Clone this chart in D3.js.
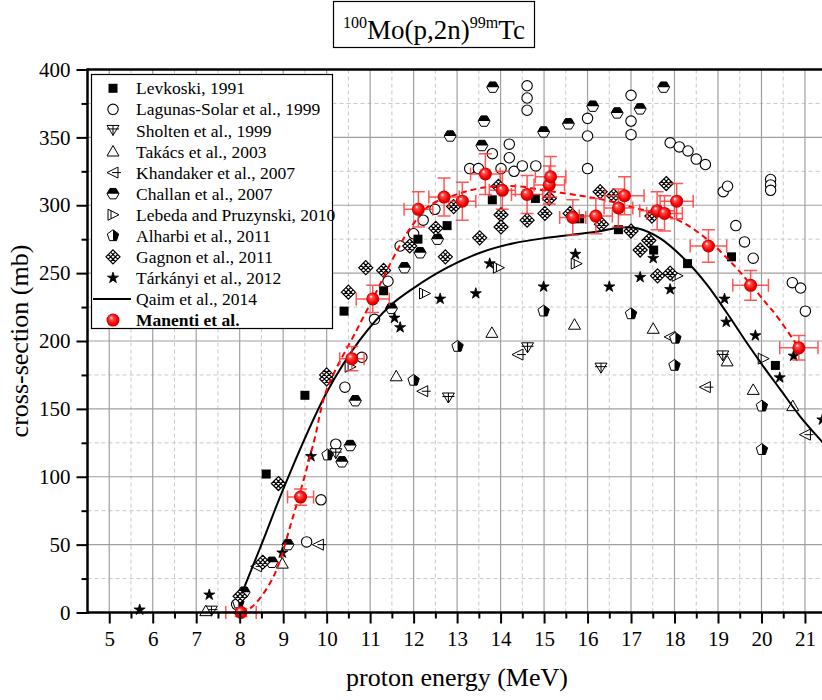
<!DOCTYPE html>
<html>
<head>
<meta charset="utf-8">
<script src="https://cdn.jsdelivr.net/npm/d3@7"></script>
<style>
body { margin: 0; background: #fff; }
svg { display: block; }
text { font-family: "Liberation Serif", "Times New Roman", serif; }
</style>
</head>
<body>
<svg id="chart"></svg>
<script>
var width = 822;
var height = 700;
var serif = "'Liberation Serif', 'Times New Roman', serif";

// ---- data (energy MeV, cross-section mb) ----
var levkoski = [[8.61,102],[9.50,160],[10.40,222],[11.31,237],[12.10,275],[12.77,285],[13.81,304],[14.80,305],
    [15.82,290],[16.71,282],[17.52,267],[18.30,257],[19.31,262],[20.32,182]];
var lagunas = [[7.93,6],[9.54,52],[9.87,83],[10.21,124],[10.42,166],[10.81,188],[11.10,216],[11.41,244],[11.69,270],
    [12.00,279],[12.22,289],[12.49,297],[13.29,327],[13.49,327],[13.81,338],[14.01,327],[14.20,345],[14.20,335],
    [14.31,325],[14.50,329],[14.81,329],[14.61,388],[14.61,379],[14.61,370],[16.0,364],[16.0,351],[16.0,327],
    [17.0,381],[17.0,362],[17.0,352],[17.90,346],[18.11,343],[18.31,340],[18.50,334],[18.71,330],[19.12,310],
    [19.22,314],[19.41,285],[19.61,273],[19.81,261],[20.21,319],[20.21,315],[20.21,311],[20.71,243],[20.90,239],[21.01,222]];
var sholten = [[7.35,1],[10.21,117],[12.80,158],[14.62,195],[16.31,180],[19.11,189]];
var takacs = [[7.22,1],[8.98,36],[11.60,174],[13.80,206],[15.70,212],[17.51,209],[19.21,185],[19.81,164],[20.72,152]];
var khandaker = [[8.39,34],[9.81,50],[12.21,163],[14.40,190],[17.90,203],[18.71,166],[21.01,131]];
var challan = [[8.10,15],[8.74,37],[9.11,50],[10.35,111],[10.54,123],[10.66,156],[11.49,224],[11.79,254],[12.15,265],
    [12.55,275],[12.84,351],[13.57,344],[13.62,362],[13.82,387],[14.99,354],[15.56,360],[16.12,373],[16.68,368],
    [17.21,371],[17.75,387]];
var lebeda = [[10.54,181],[12.25,235],[13.95,254],[15.74,257],[18.06,248],[20.04,187]];
var alharbi = [[7.97,7],[10.02,116],[12.0,171],[13.01,196],[14.99,222],[17.0,220],[18.0,182],[18.02,202],[20.01,152],[20.01,120]];
var gagnon = [[8.01,12],[8.53,37],[8.89,95],[10.0,175],[10.0,172],[10.50,236],[10.90,254],[11.31,252],[11.91,270],
    [12.51,283],[12.73,262],[12.92,299],[13.52,276],[13.95,314],[14.01,293],[14.01,284],[14.61,289],[15.02,294],
    [15.12,305],[15.60,294],[16.29,310],[16.32,286],[16.60,307],[17.0,281],[17.21,267],[17.41,274],[17.48,292],
    [17.61,248],[17.81,316],[17.90,250]];
var tarkanyi = [[5.70,2],[7.30,13],[8.98,44],[9.64,115],[11.56,217],[11.69,210],[12.61,231],[13.43,235],[13.75,257],
    [14.99,240],[15.72,264],[16.50,240],[17.21,247],[17.51,261],[17.90,238],[19.15,231],[19.19,214],[19.86,204],
    [20.42,173],[20.74,189],[21.40,142]];

var qaimE = [8.05, 8.5, 9.08, 10.0, 10.77, 11.46, 12.0, 12.77, 13.53, 14.3, 15.07, 15.83, 16.3, 16.72, 17.14, 17.67,
    18.29, 18.75, 19.21, 19.67, 20.05, 20.44, 20.9, 21.5];
var qaimS = [14, 50, 97, 162, 201, 226, 239, 254, 265, 272, 276, 279, 281, 283.5, 283, 275.6, 258.4, 241.3, 220.4,
    198.3, 181, 164, 144, 122];

var manentiE = [8.03, 9.40, 10.58, 11.06, 12.11, 12.70, 13.12, 13.65, 14.04, 14.61, 15.12, 15.15, 15.66, 16.19, 16.71,
    16.85, 17.60, 17.77, 18.05, 18.78, 19.75, 20.86];
var manentiS = [0, 85, 187, 231, 297, 306, 303, 323, 311, 308, 315, 321, 291, 292, 298, 307, 296, 294, 303, 270, 241, 195];
var manentiXerr = [0.35, 0.30, 0.28, 0.38, 0.33, 0.35, 0.31, 0.34, 0.30, 0.36, 0.35, 0.35, 0.30, 0.38, 0.33, 0.45,
    0.40, 0.41, 0.38, 0.42, 0.41, 0.44];
var manentiYerr = [3, 6, 9, 10, 13, 14, 14, 15, 14, 14, 14, 15, 13, 13, 14, 14, 14, 13, 13, 12, 11, 9];

var fitE = [8.03, 8.28, 8.77, 9.23, 9.70, 10.0, 10.69, 11.06, 11.61, 11.92, 12.38, 12.99, 13.61, 14.38, 14.99, 15.84,
    16.37, 17.21, 18.02, 18.67, 19.36, 19.82, 20.13, 20.36, 20.86];
var fitS = [0, 4, 26, 71, 125, 164, 208, 231, 266, 283, 300, 308, 313, 314, 311, 307, 304, 297, 290, 277, 256, 239,
    227, 218, 195];

var legendNames = ["Levkoski, 1991", "Lagunas-Solar et al., 1999", "Sholten et al., 1999", "Takács et al., 2003",
    "Khandaker et al., 2007", "Challan et al., 2007", "Lebeda and Pruzynski, 2010", "Alharbi et al., 2011",
    "Gagnon et al., 2011", "Tárkányi et al., 2012", "Qaim et al., 2014", "Manenti et al."];
var legendTypes = ["square", "circle", "sholten", "takacs", "khandaker", "challan", "lebeda", "alharbi",
    "gagnon", "star", "line", "red"];

var xTicks = d3.range(5, 22);
var yTicks = d3.range(0, 401, 50);

// ---- setup ----
var svg = d3.select("#chart").attr("width", width).attr("height", height).attr("font-family", serif);
var x = d3.scaleLinear().domain([4.5, 21.5]).range([87.5, 826.7]);
var y = d3.scaleLinear().domain([0, 400]).range([612.5, 69.5]);

var defs = svg.append("defs");
var grad = defs.append("radialGradient").attr("id", "ball")
    .attr("cx", "50%").attr("cy", "50%").attr("r", "55%").attr("fx", "35%").attr("fy", "30%");
grad.append("stop").attr("offset", "0%").attr("stop-color", "#ffffff");
grad.append("stop").attr("offset", "25%").attr("stop-color", "#ff5050");
grad.append("stop").attr("offset", "70%").attr("stop-color", "#f00000");
grad.append("stop").attr("offset", "100%").attr("stop-color", "#b00000");

// grid
var grid = svg.append("g");
grid.selectAll(".gxm").data(d3.range(5.5, 21.5, 1)).join("line")
    .attr("x1", d => x(d)).attr("x2", d => x(d)).attr("y1", y(0)).attr("y2", y(400))
    .attr("stroke", "#c8c8c8").attr("stroke-dasharray", "4,3");
grid.selectAll(".gym").data(d3.range(25, 400, 50)).join("line")
    .attr("x1", x(4.5)).attr("x2", width).attr("y1", d => y(d)).attr("y2", d => y(d))
    .attr("stroke", "#c8c8c8").attr("stroke-dasharray", "4,3");
grid.selectAll(".gx").data(xTicks).join("line")
    .attr("x1", d => x(d)).attr("x2", d => x(d)).attr("y1", y(0)).attr("y2", y(400))
    .attr("stroke", "#a0a0a0").attr("stroke-width", 1.2);
grid.selectAll(".gy").data(yTicks.slice(1, -1)).join("line")
    .attr("x1", x(4.5)).attr("x2", width).attr("y1", d => y(d)).attr("y2", d => y(d))
    .attr("stroke", "#a0a0a0").attr("stroke-width", 1.2);

// markers
function drawMarker(g, type) {
    switch (type) {
        case "square":
            g.append("rect").attr("x", -4.5).attr("y", -4.5).attr("width", 9).attr("height", 9).attr("fill", "#000");
            break;
        case "circle":
            g.append("circle").attr("r", 5.2).attr("fill", "#fff").attr("stroke", "#000").attr("stroke-width", 1.1);
            break;
        case "sholten":
            g.append("path").attr("d", "M-6,-5L6,-5L0,5Z").attr("fill", "#fff").attr("stroke", "#000");
            g.append("path").attr("d", "M-6,-1.5L6,-1.5M0,-5L0,5").attr("stroke", "#000");
            break;
        case "takacs":
            g.append("path").attr("d", "M0,-6L6,4.5L-6,4.5Z").attr("fill", "#fff").attr("stroke", "#000");
            break;
        case "khandaker":
            g.append("path").attr("d", "M-6,0L5,-5.5L5,5.5Z").attr("fill", "#fff").attr("stroke", "#000");
            g.append("path").attr("d", "M-1,0L8,0").attr("stroke", "#000");
            break;
        case "lebeda":
            g.append("path").attr("d", "M6,0L-5,-5.5L-5,5.5Z").attr("fill", "#fff").attr("stroke", "#000");
            g.append("path").attr("d", "M-2,-4L-2,4").attr("stroke", "#000");
            break;
        case "challan":
            g.append("path").attr("d", "M6,0L3,5.2L-3,5.2L-6,0L-3,-5.2L3,-5.2Z").attr("fill", "#fff").attr("stroke", "#000");
            g.append("path").attr("d", "M6,0L3,-5.2L-3,-5.2L-6,0Z").attr("fill", "#000");
            break;
        case "alharbi":
            g.append("path").attr("d", "M0,-6L5.7,-1.85L3.5,4.85L-3.5,4.85L-5.7,-1.85Z").attr("fill", "#fff").attr("stroke", "#000");
            g.append("path").attr("d", "M0,-6L5.7,-1.85L3.5,4.85L0,4.85Z").attr("fill", "#000");
            break;
        case "gagnon":
            // crosshatched diamond
            g.append("path").attr("d", "M0,-7L7,0L0,7L-7,0Z" +
                "M-4.67,2.33L2.33,-4.67M-2.33,4.67L4.67,-2.33M-4.67,-2.33L2.33,4.67M-2.33,-4.67L4.67,2.33")
                .attr("fill", "#fff").attr("stroke", "#000").attr("stroke-width", 1.2);
            break;
        case "star":
            g.append("path").attr("d", d3.symbol(d3.symbolStar, 38)()).attr("fill", "#000").attr("stroke", "#000")
                .attr("stroke-width", 0.8);
            break;
        case "line":
            g.append("line").attr("x1", -20).attr("x2", 18).attr("stroke", "#000").attr("stroke-width", 2);
            break;
        case "red":
            g.append("circle").attr("r", 6.5).attr("fill", "url(#ball)");
            break;
    }
}

var seriesList = [
    [challan, "challan"], [lagunas, "circle"], [sholten, "sholten"], [takacs, "takacs"], [khandaker, "khandaker"],
    [lebeda, "lebeda"], [alharbi, "alharbi"], [gagnon, "gagnon"], [tarkanyi, "star"], [levkoski, "square"]
];
var points = svg.append("g");
seriesList.forEach(function (s) {
    points.append("g").selectAll("g").data(s[0]).join("g")
        .attr("transform", d => "translate(" + x(d[0]) + "," + y(d[1]) + ")")
        .each(function () { drawMarker(d3.select(this), s[1]); });
});

// Qaim curve
var line = d3.line().x(d => x(d[0])).y(d => y(d[1])).curve(d3.curveCatmullRom);
svg.append("path").datum(d3.zip(qaimE, qaimS)).attr("d", line)
    .attr("fill", "none").attr("stroke", "#000").attr("stroke-width", 2);

// Manenti fit
svg.append("path").datum(d3.zip(fitE, fitS)).attr("d", line)
    .attr("fill", "none").attr("stroke", "#f00").attr("stroke-width", 2).attr("stroke-dasharray", "6,4");

// Manenti points with error bars
var manenti = d3.zip(manentiE, manentiS, manentiXerr, manentiYerr);
var eb = svg.append("g").attr("stroke", "#ff3a3a").attr("stroke-width", 1.5).attr("stroke-opacity", 0.85).attr("fill", "none");
eb.selectAll(".ex").data(manenti).join("path")
    .attr("d", d => "M" + x(d[0] - d[2]) + "," + y(d[1]) + "H" + x(d[0] + d[2]) +
        "M" + x(d[0] - d[2]) + "," + (y(d[1]) - 6.5) + "V" + (y(d[1]) + 6.5) +
        "M" + x(d[0] + d[2]) + "," + (y(d[1]) - 6.5) + "V" + (y(d[1]) + 6.5));
eb.selectAll(".ey").data(manenti).join("path")
    .attr("d", d => "M" + x(d[0]) + "," + y(d[1] - d[3]) + "V" + y(d[1] + d[3]) +
        "M" + (x(d[0]) - 6.5) + "," + y(d[1] - d[3]) + "H" + (x(d[0]) + 6.5) +
        "M" + (x(d[0]) - 6.5) + "," + y(d[1] + d[3]) + "H" + (x(d[0]) + 6.5));
svg.append("g").selectAll("g").data(manenti).join("g")
    .attr("transform", d => "translate(" + x(d[0]) + "," + y(d[1]) + ")")
    .each(function () { drawMarker(d3.select(this), "red"); });

// axes
svg.append("g").attr("transform", "translate(0," + y(0) + ")")
    .call(d3.axisBottom(x).tickValues(xTicks).tickSize(11).tickPadding(8).tickFormat(d3.format("d")));
svg.append("g").attr("transform", "translate(0," + y(0) + ")")
    .call(d3.axisBottom(x).tickValues(d3.range(5.5, 21.5, 1)).tickSize(6).tickFormat(""));
svg.append("g").attr("transform", "translate(" + x(4.5) + ",0)")
    .call(d3.axisLeft(y).tickValues(yTicks).tickSize(11).tickPadding(6));
svg.append("g").attr("transform", "translate(" + x(4.5) + ",0)")
    .call(d3.axisLeft(y).tickValues(d3.range(25, 400, 50)).tickSize(6).tickFormat(""));
svg.selectAll(".domain").remove();
svg.selectAll(".tick line").attr("stroke", "#000").attr("stroke-width", 2);
svg.selectAll(".tick").each(function () { d3.select(this.parentNode).attr("font-family", serif); });
svg.selectAll(".tick text").attr("fill", "#000").attr("font-size", 21).attr("font-family", serif);

// frame lines
svg.append("line").attr("x1", x(4.5)).attr("x2", width).attr("y1", y(0)).attr("y2", y(0)).attr("stroke", "#000").attr("stroke-width", 2.5);
svg.append("line").attr("x1", x(4.5)).attr("x2", width).attr("y1", y(400)).attr("y2", y(400)).attr("stroke", "#000").attr("stroke-width", 2.5);
svg.append("line").attr("x1", x(4.5)).attr("x2", x(4.5)).attr("y1", y(0) + 1.25).attr("y2", y(400) - 1.25).attr("stroke", "#000").attr("stroke-width", 2.5);

// labels
svg.append("text").attr("x", 457).attr("y", 686).attr("text-anchor", "middle").attr("font-size", 26)
    .attr("font-family", serif).text("proton energy (MeV)");
svg.append("text").attr("transform", "translate(28," + 341 + ") rotate(-90)").attr("text-anchor", "middle")
    .attr("font-family", serif).attr("font-size", 26).text("cross-section (mb)");

// title
svg.append("rect").attr("x", 333.5).attr("y", 1.5).attr("width", 201).attr("height", 46)
    .attr("fill", "#fff").attr("stroke", "#000").attr("stroke-width", 1.2);
var title = svg.append("text").attr("x", 434).attr("y", 39).attr("text-anchor", "middle").attr("font-family", serif);
title.append("tspan").attr("font-size", 16).attr("dy", -11).text("100");
title.append("tspan").attr("font-size", 27).attr("dy", 11).text("Mo(p,2n)");
title.append("tspan").attr("font-size", 16).attr("dy", -11).text("99m");
title.append("tspan").attr("font-size", 27).attr("dy", 11).text("Tc");

// legend
var legend = svg.append("g");
legend.append("rect").attr("x", 91.5).attr("y", 74.5).attr("width", 241).attr("height", 254)
    .attr("fill", "#fff").attr("stroke", "#000").attr("stroke-width", 1.2);
var rows = legend.selectAll("g").data(legendNames).join("g")
    .attr("transform", (d, i) => "translate(113," + (88.3 + i * 21.07) + ")");
rows.each(function (d, i) { drawMarker(d3.select(this), legendTypes[i]); });
rows.append("text").attr("x", 23).attr("dy", "0.35em").attr("font-size", 17.5).attr("font-family", serif)
    .attr("font-weight", (d, i) => i === 11 ? "bold" : null).text(d => d);
</script>
</body>
</html>
